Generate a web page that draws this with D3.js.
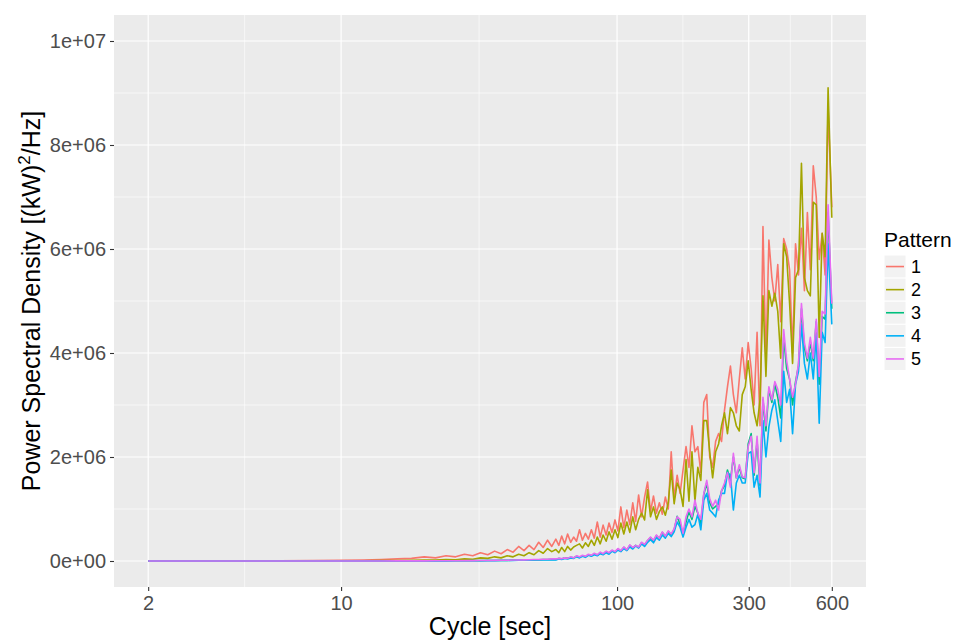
<!DOCTYPE html>
<html>
<head>
<meta charset="utf-8">
<script src="https://cdn.jsdelivr.net/npm/d3@7"></script>
<style>
  html, body { margin: 0; padding: 0; background: #ffffff; }
  svg { display: block; font-family: "Liberation Sans", Arial, sans-serif; }
</style>
</head>
<body>
<svg id="chart" width="957" height="643"></svg>
<script>
// Cycle length of each spectral estimate [sec]
const cycles = [
  2, 2.5, 3, 4, 5, 6, 8, 10, 12, 14, 16, 18, 20, 22, 24, 26, 28, 30, 32, 34, 36, 38, 40, 42, 44, 46, 48, 50, 52, 54, 56, 58,
  60, 61.5, 63, 64.6, 66.2, 67.9, 69.6, 71.3, 73.1, 74.9,
  76.8, 78.7, 80.7, 82.7, 84.8, 86.9, 89, 91.3, 93.5, 95.9,
  98.3, 100.7, 103.2, 105.8, 108.5, 111.2, 114, 116.8, 119.7, 122.7,
  125.8, 129, 132.2, 135.5, 138.9, 142.3, 145.9, 149.6, 153.3, 157.1,
  161, 165.1, 169.2, 173.4, 177.8, 182.2, 186.8, 191.5, 196.2, 201.1,
  206.2, 211.3, 216.6, 222, 227.6, 233.3, 239.1, 245.1, 251.2, 257.5,
  263.9, 270.5, 277.3, 284.2, 291.3, 298.6, 306.1, 313.7, 321.6, 329.6,
  337.8, 346.3, 354.9, 363.8, 372.9, 382.2, 391.8, 401.6, 411.6, 421.9,
  432.5, 443.3, 454.4, 465.7, 477.4, 489.3, 501.5, 514, 526.9, 540.1,
  553.6, 567.4, 581.6, 600
];

// Power spectral density per pattern, in units of 1e6 (kW)^2/Hz
const pattern1 = [
  0, 0, 0.001, 0.002, 0.003, 0.005, 0.01, 0.015, 0.02, 0.03, 0.04, 0.05, 0.08, 0.06, 0.10, 0.08, 0.13, 0.10, 0.16, 0.12, 0.19, 0.14, 0.22, 0.17, 0.28, 0.20, 0.30, 0.22, 0.36, 0.26, 0.40, 0.28,
  0.42, 0.30, 0.48, 0.33, 0.52, 0.36, 0.46, 0.38, 0.60, 0.40,
  0.53, 0.42, 0.60, 0.44, 0.75, 0.46, 0.69, 0.50, 0.73, 0.55,
  0.79, 0.58, 1.04, 0.64, 0.98, 0.70, 1.12, 0.76, 1.27, 0.85,
  1.23, 1.52, 0.95, 1.25, 0.92, 1.12, 0.90, 1.23, 1.00, 2.10,
  1.20, 1.65, 1.30, 1.75, 2.20, 1.80, 2.60, 2.10, 2.20, 1.70,
  3.05, 3.20, 2.00, 1.80, 2.30, 2.45, 2.30, 2.90, 3.35, 3.75,
  3.20, 2.85, 3.50, 4.10, 3.50, 4.20, 3.70, 3.00, 4.40, 2.60,
  6.43, 3.85, 6.17, 5.45, 5.00, 5.70, 4.60, 6.20, 6.00, 5.60,
  4.00, 6.10, 5.50, 6.40, 5.20, 6.70, 5.60, 7.60, 7.00, 5.80,
  6.30, 5.50, 8.70, 6.80
];
const pattern2 = [
  0, 0, 0, 0, 0.001, 0.001, 0.002, 0.004, 0.006, 0.008, 0.01, 0.015, 0.02, 0.02, 0.03, 0.025, 0.04, 0.035, 0.06, 0.05, 0.08, 0.06, 0.10, 0.08, 0.13, 0.10, 0.16, 0.12, 0.20, 0.15, 0.24, 0.18,
  0.22, 0.16, 0.26, 0.18, 0.28, 0.21, 0.27, 0.30, 0.33, 0.25,
  0.35, 0.28, 0.40, 0.30, 0.46, 0.33, 0.50, 0.38, 0.56, 0.42,
  0.60, 0.45, 0.73, 0.52, 0.75, 0.55, 0.85, 0.60, 0.80, 0.92,
  0.79, 1.37, 0.85, 1.04, 0.80, 0.95, 1.04, 0.88, 1.12, 1.75,
  1.10, 1.50, 1.37, 1.05, 1.95, 1.15, 2.10, 1.15, 1.80, 1.55,
  2.70, 2.70, 2.10, 1.60, 2.10, 2.25, 2.60, 2.85, 2.45, 2.95,
  2.85, 2.60, 2.50, 3.20, 3.35, 3.85, 3.30, 2.85, 2.60, 3.10,
  5.10, 3.55, 5.20, 4.90, 5.15, 4.80, 3.90, 6.10, 5.85, 4.95,
  3.80, 5.45, 5.60, 7.65, 5.45, 5.20, 5.10, 6.90, 6.85, 4.30,
  6.30, 5.85, 9.10, 6.60
];
const pattern3 = [
  0, 0, 0, 0, 0, 0, 0, 0, 0.001, 0.001, 0.002, 0.002, 0.003, 0.004, 0.004, 0.005, 0.006, 0.008, 0.007, 0.01, 0.01, 0.013, 0.012, 0.016, 0.015, 0.02, 0.019, 0.025, 0.022, 0.03, 0.028, 0.035,
  0.03, 0.05, 0.04, 0.06, 0.05, 0.07, 0.06, 0.09, 0.07, 0.10,
  0.08, 0.12, 0.10, 0.14, 0.11, 0.16, 0.13, 0.18, 0.15, 0.20,
  0.17, 0.23, 0.19, 0.26, 0.21, 0.30, 0.25, 0.30, 0.26, 0.35,
  0.31, 0.39, 0.45, 0.38, 0.49, 0.43, 0.55, 0.47, 0.57, 0.50,
  0.60, 0.86, 0.70, 0.52, 0.75, 0.95, 0.80, 1.05, 0.92, 0.72,
  1.28, 1.50, 1.12, 1.00, 1.05, 1.10, 1.35, 1.45, 1.75, 1.55,
  2.00, 1.60, 1.80, 1.60, 1.58, 2.25, 2.45, 1.65, 2.30, 1.45,
  3.10, 2.50, 3.30, 3.05, 3.40, 3.15, 2.75, 4.30, 3.70, 3.50,
  3.00, 3.45, 3.75, 4.85, 4.10, 3.85, 4.20, 3.85, 4.60, 3.40,
  4.70, 4.65, 6.70, 4.85
];
const pattern4 = [
  0, 0, 0, 0, 0, 0, 0, 0, 0, 0.001, 0.001, 0.002, 0.002, 0.003, 0.003, 0.004, 0.005, 0.006, 0.006, 0.008, 0.008, 0.01, 0.01, 0.012, 0.013, 0.015, 0.016, 0.018, 0.02, 0.022, 0.02, 0.025,
  0.02, 0.04, 0.03, 0.05, 0.04, 0.06, 0.05, 0.08, 0.06, 0.09,
  0.07, 0.11, 0.09, 0.12, 0.10, 0.14, 0.12, 0.16, 0.13, 0.19,
  0.16, 0.21, 0.18, 0.24, 0.20, 0.27, 0.23, 0.29, 0.25, 0.33,
  0.28, 0.36, 0.41, 0.35, 0.45, 0.40, 0.50, 0.44, 0.53, 0.47,
  0.56, 0.75, 0.65, 0.46, 0.65, 0.80, 0.65, 0.70, 0.90, 0.60,
  1.17, 1.30, 0.98, 0.92, 0.85, 1.17, 1.30, 1.30, 1.70, 1.65,
  0.98, 1.50, 1.65, 1.50, 1.50, 2.07, 2.10, 1.42, 1.65, 1.23,
  2.70, 2.00, 2.58, 2.90, 3.10, 2.70, 2.30, 3.65, 3.05, 3.30,
  2.45, 3.40, 3.65, 4.55, 3.80, 3.50, 4.00, 3.50, 4.35, 2.65,
  4.40, 4.20, 6.10, 4.55
];
const pattern5 = [
  0, 0, 0, 0, 0, 0, 0, 0, 0.001, 0.001, 0.002, 0.003, 0.003, 0.004, 0.005, 0.006, 0.007, 0.008, 0.009, 0.011, 0.012, 0.014, 0.015, 0.018, 0.02, 0.022, 0.024, 0.028, 0.03, 0.034, 0.035, 0.04,
  0.04, 0.05, 0.045, 0.06, 0.05, 0.08, 0.06, 0.10, 0.08, 0.11,
  0.09, 0.13, 0.11, 0.15, 0.12, 0.17, 0.14, 0.19, 0.16, 0.21,
  0.18, 0.24, 0.20, 0.27, 0.22, 0.31, 0.26, 0.30, 0.27, 0.36,
  0.32, 0.40, 0.46, 0.40, 0.50, 0.44, 0.56, 0.48, 0.58, 0.52,
  0.62, 0.85, 0.80, 0.53, 0.85, 1.00, 0.85, 1.17, 0.92, 0.80,
  1.30, 1.55, 1.20, 1.05, 1.17, 0.98, 1.35, 1.50, 1.70, 1.42,
  2.07, 1.60, 1.85, 1.62, 1.60, 2.20, 2.40, 1.70, 2.40, 1.50,
  3.15, 2.60, 3.35, 3.10, 3.45, 3.30, 3.00, 4.45, 3.85, 3.50,
  3.15, 3.40, 3.80, 4.95, 4.20, 3.90, 4.30, 3.90, 4.65, 3.55,
  4.80, 4.75, 6.85, 4.95
];

const patternNames = ["1", "2", "3", "4", "5"];
const patternColors = ["#F8766D", "#A3A500", "#00BF7D", "#00B0F6", "#E76BF3"];
const psdUnit = 1e6;

// Axis breaks and labels
const xBreaks = [2, 10, 100, 300, 600];
const xBreakLabels = ["2", "10", "100", "300", "600"];
const xMinorBreaks = [4.472, 31.62, 173.2, 424.3];
const yBreaks = [0, 2e6, 4e6, 6e6, 8e6, 1e7];
const yBreakLabels = ["0e+00", "2e+06", "4e+06", "6e+06", "8e+06", "1e+07"];
const yMinorBreaks = [1e6, 3e6, 5e6, 7e6, 9e6];

const series = [pattern1, pattern2, pattern3, pattern4, pattern5].map((vals, k) => ({
  name: patternNames[k],
  color: patternColors[k],
  points: cycles.map((c, i) => ({ cycle: c, psd: vals[i] * psdUnit }))
}));

const svg = d3.select("#chart");
const panel = { left: 114, right: 866, top: 15, bottom: 587 };

// log10 x with 5% expansion on each side, as in ggplot
const lx0 = Math.log10(2), lx1 = Math.log10(600), lxPad = (lx1 - lx0) * 0.05;
const x = d3.scaleLog()
  .domain([Math.pow(10, lx0 - lxPad), Math.pow(10, lx1 + lxPad)])
  .range([panel.left, panel.right]);
const y = d3.scaleLinear()
  .domain([-0.5e6, 10.5e6])
  .range([panel.bottom, panel.top]);

svg.append("rect").attr("width", 957).attr("height", 643).attr("fill", "#ffffff");
svg.append("rect")
  .attr("x", panel.left).attr("y", panel.top)
  .attr("width", panel.right - panel.left).attr("height", panel.bottom - panel.top)
  .attr("fill", "#EBEBEB");

const grid = svg.append("g");
grid.selectAll("line.ymin").data(yMinorBreaks).join("line")
  .attr("x1", panel.left).attr("x2", panel.right)
  .attr("y1", d => y(d)).attr("y2", d => y(d))
  .attr("stroke", "#ffffff").attr("stroke-width", 0.6);
grid.selectAll("line.xmin").data(xMinorBreaks).join("line")
  .attr("y1", panel.top).attr("y2", panel.bottom)
  .attr("x1", d => x(d)).attr("x2", d => x(d))
  .attr("stroke", "#ffffff").attr("stroke-width", 0.6);
grid.selectAll("line.ymaj").data(yBreaks).join("line")
  .attr("x1", panel.left).attr("x2", panel.right)
  .attr("y1", d => y(d)).attr("y2", d => y(d))
  .attr("stroke", "#ffffff").attr("stroke-width", 1.2);
grid.selectAll("line.xmaj").data(xBreaks).join("line")
  .attr("y1", panel.top).attr("y2", panel.bottom)
  .attr("x1", d => x(d)).attr("x2", d => x(d))
  .attr("stroke", "#ffffff").attr("stroke-width", 1.2);

// Spectra
const line = d3.line().x(d => x(d.cycle)).y(d => y(d.psd));
const clipId = "panel-clip";
svg.append("clipPath").attr("id", clipId).append("rect")
  .attr("x", panel.left).attr("y", panel.top)
  .attr("width", panel.right - panel.left).attr("height", panel.bottom - panel.top);
svg.append("g").attr("clip-path", `url(#${clipId})`)
  .selectAll("path").data(series).join("path")
  .attr("d", d => line(d.points))
  .attr("fill", "none")
  .attr("stroke", d => d.color)
  .attr("stroke-width", 1.6)
  .attr("stroke-linejoin", "round");

// Axes
const xAxis = d3.axisBottom(x).tickValues(xBreaks)
  .tickFormat((d, i) => xBreakLabels[i]).tickSize(4).tickSizeOuter(0).tickPadding(5);
const gx = svg.append("g").attr("transform", `translate(0,${panel.bottom})`).call(xAxis);
gx.select(".domain").remove();
gx.selectAll(".tick line").attr("stroke", "#333333").attr("stroke-width", 1.1);
gx.selectAll(".tick text").attr("fill", "#4D4D4D").attr("font-size", 20)
  .attr("font-family", "'Liberation Sans', Arial, sans-serif");

const yAxis = d3.axisLeft(y).tickValues(yBreaks)
  .tickFormat((d, i) => yBreakLabels[i]).tickSize(4).tickSizeOuter(0).tickPadding(4);
const gy = svg.append("g").attr("transform", `translate(${panel.left},0)`).call(yAxis);
gy.select(".domain").remove();
gy.selectAll(".tick line").attr("stroke", "#333333").attr("stroke-width", 1.1);
gy.selectAll(".tick text").attr("fill", "#4D4D4D").attr("font-size", 20)
  .attr("font-family", "'Liberation Sans', Arial, sans-serif");

// Axis titles
svg.append("text")
  .attr("x", (panel.left + panel.right) / 2).attr("y", 635)
  .attr("text-anchor", "middle").attr("font-size", 25).attr("fill", "#000")
  .text("Cycle [sec]");

const yTitle = svg.append("text")
  .attr("transform", `translate(40,${(panel.top + panel.bottom) / 2}) rotate(-90)`)
  .attr("text-anchor", "middle").attr("font-size", 25).attr("fill", "#000");
yTitle.append("tspan").text("Power Spectral Density [(kW)");
yTitle.append("tspan").attr("font-size", 17).attr("dy", -10).text("2");
yTitle.append("tspan").attr("dy", 10).text("/Hz]");

// Legend
const legend = svg.append("g");
legend.append("text").attr("x", 884).attr("y", 247)
  .attr("font-size", 21).attr("fill", "#000").text("Pattern");
const keyTop = 255, keyStep = 23.1, keySize = 22;
const keys = legend.selectAll("g.key").data(series).join("g")
  .attr("transform", (d, i) => `translate(884,${keyTop + i * keyStep})`);
keys.append("rect").attr("width", keySize).attr("height", keyStep)
  .attr("fill", "#F2F2F2").attr("stroke", "#ffffff").attr("stroke-width", 1);
keys.append("line").attr("x1", 2).attr("x2", keySize - 2)
  .attr("y1", keyStep / 2).attr("y2", keyStep / 2)
  .attr("stroke", d => d.color).attr("stroke-width", 1.6);
keys.append("text").attr("x", 27).attr("y", keyStep / 2 + 6.5)
  .attr("font-size", 18).attr("fill", "#000").text(d => d.name);
</script>
</body>
</html>
